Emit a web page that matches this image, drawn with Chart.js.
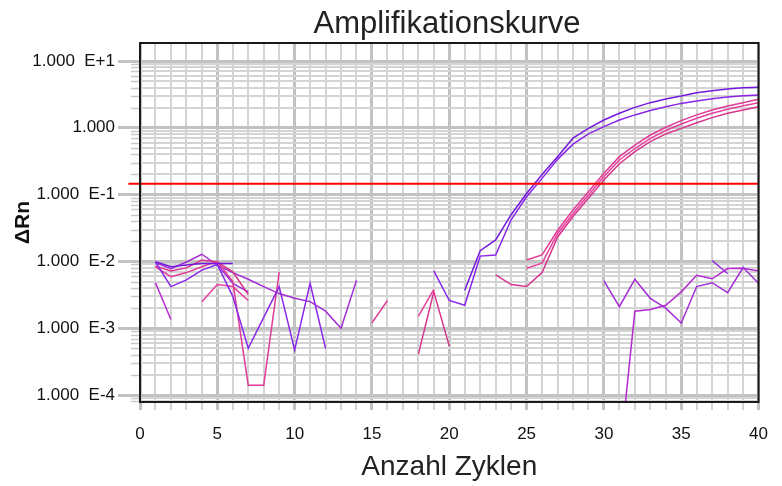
<!DOCTYPE html>
<html>
<head>
<meta charset="utf-8">
<script src="https://cdn.jsdelivr.net/npm/chart.js@4.4.1/dist/chart.umd.min.js"></script>
<style>
  html, body { margin: 0; padding: 0; background: #fff; }
  #wrap { width: 782px; height: 486px; }
</style>
</head>
<body>
<div id="wrap"><canvas id="ampChart" width="782" height="486"></canvas></div>
<script>
// cycles and well readings (delta Rn), null = not shown (value <= 0 on log plot)
const cycles = [1,2,3,4,5,6,7,8,9,10,11,12,13,14,15,16,17,18,19,20,21,22,23,24,25,26,27,28,29,30,31,32,33,34,35,36,37,38,39,40];

const purpleTop = [0.0099,0.0083,0.0088,0.0093,0.0093,0.0093,null,null,null,null,null,null,null,null,null,null,null,null,null,null,
  0.0037,0.0145,0.021,0.050,0.104,0.20,0.37,0.70,0.98,1.31,1.65,2.02,2.38,2.70,2.99,3.36,3.60,3.81,3.99,4.04];
const purpleBottom = [0.0098,0.0042,0.0053,0.0074,0.0090,0.0030,0.0005,0.00145,0.0042,0.00047,0.0047,0.0005,null,null,null,null,null,null,0.0072,0.0026,
  0.0022,0.012,0.0125,0.042,0.093,0.175,0.337,0.57,0.81,1.04,1.31,1.56,1.81,2.07,2.32,2.52,2.73,2.89,3.03,3.10];
const pinkA = [0.0083,0.0059,0.0068,0.0083,0.0100,0.0050,0.00014,0.00014,0.0069,null,null,null,null,null,0.0012,0.0026,null,null,null,null,
  null,null,null,null,0.0105,0.0125,0.029,0.059,0.11,0.208,0.37,0.55,0.78,1.02,1.28,1.56,1.85,2.12,2.38,2.67];
const pinkB = [null,null,null,0.0025,0.0045,0.0042,0.0026,null,null,null,null,null,null,null,null,null,null,0.0015,0.0038,null,
  null,null,null,null,0.0079,0.0094,0.026,0.052,0.099,0.186,0.33,0.49,0.695,0.91,1.14,1.39,1.65,1.89,2.14,2.38];
const pinkC = [0.0085,0.0072,0.0080,0.0105,0.0098,0.0070,0.0032,null,null,null,null,null,null,null,null,null,null,0.00041,0.0035,0.00054,
  null,null,0.0063,0.0045,0.0042,0.0068,0.023,0.047,0.088,0.166,0.29,0.44,0.62,0.81,0.98,1.19,1.42,1.65,1.85,2.07];
const ntcA = [0.0095,0.0078,0.0098,0.0128,0.0088,0.0068,0.0054,0.0042,0.0033,0.0028,0.0025,0.0018,0.0010,0.0052,null,null,null,null,null,null,
  null,null,null,null,null,null,null,null,null,0.0051,0.0021,0.0054,0.0028,0.0020,0.0012,0.0042,0.0048,0.0034,0.0081,0.0047];
const ntcB = [0.0048,0.00135,null,null,null,null,null,null,null,null,null,null,null,null,null,null,null,null,null,null,
  null,null,null,null,null,null,null,null,null,null,0.00001,0.0018,0.0019,0.0022,0.0035,0.0062,0.0055,0.0078,0.0079,0.0072];
const ntcC = [null,null,null,null,0.0090,0.0047,0.0035,null,null,null,null,null,null,null,null,null,null,null,null,null,
  null,null,null,null,null,null,null,null,null,null,null,null,null,null,null,null,0.0103,0.0066,null,null];

const thresholdX = [-0.75, 40];
const thresholdY = [0.145, 0.145];

const xTickLabels = ["0","5","10","15","20","25","30","35","40"];
const yDecades = [1e-4, 1e-3, 1e-2, 1e-1, 1, 10];
const yDecadeLabels = ["1.000  E-4", "1.000  E-3", "1.000  E-2", "1.000  E-1", "1.000", "1.000  E+1"];

const chartTitle = "Amplifikationskurve";
const xTitle = "Anzahl Zyklen";
const yTitle = "\u0394Rn";

const Y_MIN = 7.86e-5, Y_MAX = 18.6;
const FONT = "'Liberation Sans', Arial, sans-serif";

function isDecade(v) {
  const l = Math.log10(v);
  return Math.abs(l - Math.round(l)) < 1e-6;
}

function pts(arr) {
  return cycles.map((c, i) => ({ x: c, y: arr[i] }));
}

function well(arr, color) {
  return {
    data: pts(arr),
    borderColor: color,
    borderWidth: 1.5,
    pointRadius: 0,
    tension: 0,
    fill: false,
    spanGaps: false
  };
}

// log gridlines 1..9 per decade inside the range
const yGrid = [];
[1e-5, 1e-4, 1e-3, 1e-2, 1e-1, 1, 10].forEach(d => {
  [1,2,3,4,5,6,7,8,9].forEach(m => {
    const v = +(d * m).toPrecision(3);
    if (v >= Y_MIN && v <= Y_MAX) yGrid.push(v);
  });
});

const frame = {
  id: "frame",
  afterDraw(chart) {
    const { ctx, chartArea: a, scales } = chart;
    const y = scales.y;
    ctx.save();
    // short minor ticks left of the axis
    ctx.strokeStyle = "#c8c8c8";
    ctx.lineWidth = 1.5;
    y.ticks.forEach(t => {
      if (isDecade(t.value)) return;
      const py = Math.round(y.getPixelForValue(t.value)) + 0.5;
      ctx.beginPath();
      ctx.moveTo(a.left - 9, py);
      ctx.lineTo(a.left, py);
      ctx.stroke();
    });
    ctx.strokeStyle = "#1a1a1a";
    ctx.lineWidth = 2;
    ctx.strokeRect(a.left, a.top, a.right - a.left, a.bottom - a.top);
    ctx.fillStyle = "#222";
    ctx.font = "31px " + FONT;
    ctx.textAlign = "center";
    ctx.textBaseline = "alphabetic";
    ctx.fillText(chartTitle, 447, 33);
    ctx.restore();
  }
};

const cfg = {
  type: "line",
  data: {
    datasets: [
      {
        data: thresholdX.map((x, i) => ({ x, y: thresholdY[i] })),
        borderColor: "#ff0000",
        borderWidth: 2,
        pointRadius: 0,
        clip: { left: 12, top: 0, right: 0, bottom: 0 }
      },
      well(purpleTop, "#7418e0"),
      well(purpleBottom, "#8a26ea"),
      well(pinkA, "#e23a96"),
      well(pinkB, "#e8409e"),
      well(pinkC, "#d8348c"),
      well(ntcA, "#a42cd6"),
      well(ntcB, "#b52ad0"),
      well(ntcC, "#9b30e0")
    ]
  },
  options: {
    responsive: false,
    animation: false,
    layout: { padding: { top: 43, right: 8, bottom: 0, left: 0 } },
    plugins: { legend: { display: false }, tooltip: { enabled: false } },
    scales: {
      x: {
        type: "linear",
        min: 0,
        max: 40,
        afterFit: s => { s.height = 84; },
        border: { display: false },
        grid: {
          color: c => (c.tick.value % 5 === 0 ? "#c2c2c2" : "#d4d4d4"),
          lineWidth: c => (c.tick.value % 5 === 0 ? 3 : 2),
          tickLength: 8
        },
        ticks: {
          stepSize: 1,
          autoSkip: false,
          maxRotation: 0,
          padding: 14,
          color: "#111",
          font: { family: FONT, size: 17 },
          callback: v => (v % 5 === 0 ? xTickLabels[v / 5] : "")
        },
        title: {
          display: true,
          text: xTitle,
          color: "#222",
          font: { family: FONT, size: 28 },
          padding: { top: 0, bottom: 2 }
        }
      },
      y: {
        type: "logarithmic",
        min: Y_MIN,
        max: Y_MAX,
        afterFit: s => { s.width = 140; },
        afterBuildTicks: s => { s.ticks = yGrid.map(v => ({ value: v })); },
        border: { display: false },
        grid: {
          color: c => (isDecade(c.tick.value) ? "#c2c2c2" : "#d4d4d4"),
          lineWidth: c => (isDecade(c.tick.value) ? 3 : 2),
          tickColor: c => (isDecade(c.tick.value) ? "#c2c2c2" : "rgba(0,0,0,0)"),
          tickLength: 22
        },
        ticks: {
          autoSkip: false,
          padding: 3,
          color: "#111",
          font: { family: FONT, size: 17 },
          callback: v => {
            if (!isDecade(v)) return "";
            const i = yDecades.findIndex(d => Math.abs(Math.log10(d) - Math.log10(v)) < 1e-6);
            return i >= 0 ? yDecadeLabels[i] : "";
          }
        },
        title: {
          display: true,
          text: yTitle,
          color: "#111",
          font: { family: FONT, size: 21, weight: "bold" },
          padding: { top: 11, bottom: 0 }
        }
      }
    }
  },
  plugins: [frame]
};

new Chart(document.getElementById("ampChart").getContext("2d"), cfg);
</script>
</body>
</html>
